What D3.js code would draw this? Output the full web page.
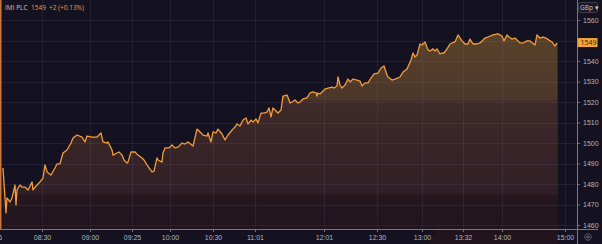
<!DOCTYPE html>
<html>
<head>
<meta charset="utf-8">
<script src="https://cdn.jsdelivr.net/npm/d3@7"></script>
<style>
  html, body { margin: 0; padding: 0; background: #141220; }
  svg { display: block; font-family: "Open Sans", Roboto, sans-serif; }
</style>
</head>
<body>
<div id="viz"></div>
<script>
// intraday bars (bar number from the first bar) and closing prices, GBp
const barIndex = [0, 3, 4, 7, 9, 12, 13, 14, 17, 19, 22, 25, 29, 30, 33, 37, 40, 42, 44, 48, 52, 54, 57, 60, 64, 68, 70, 74, 79, 82, 84, 89, 94, 98,
  100, 104, 105, 109, 110, 114, 116, 119, 121, 124, 125, 128, 132, 135, 139, 141, 144, 147, 149, 151, 154, 155, 159, 160, 162, 166, 169, 172, 175, 179, 182, 185, 190,
  194, 197, 200, 204, 205, 208, 210, 213, 215, 219, 222, 225, 229, 232, 234, 237, 240, 243, 245, 248, 250, 253, 255, 258, 261, 264, 266, 268, 270, 272, 275, 278, 280, 284, 286,
  287, 289, 292, 295, 297, 300, 304, 307, 310, 313, 314, 315, 317, 319, 322, 325, 329, 331, 334, 335, 337, 339, 342, 345, 347, 350, 354, 357, 359, 362, 365, 368, 371, 375, 378, 381,
  384, 385, 389, 392, 397, 400, 404, 408, 410, 412, 414, 417, 419, 422, 425, 427, 430, 432, 434, 437, 439, 441, 444, 447, 449, 452, 455, 459, 462, 465, 467, 470, 474, 477,
  482, 485, 490, 495, 499, 501, 504, 506, 509, 512, 515, 517, 520, 524, 527, 532, 534, 537, 540, 543, 546, 549, 552, 554, 556]
const price = [1487.8, 1465.9, 1473.2, 1471.2, 1473.2, 1479.5, 1469.8, 1477.1, 1479.5, 1478.5, 1478.5, 1477.1, 1481.0, 1477.1, 1479.0, 1481.0, 1482.9, 1489.3, 1485.9, 1484.4, 1487.8, 1489.8, 1489.8, 1495.1, 1496.6, 1500.0, 1502.4, 1503.9, 1502.9, 1500.5, 1503.4, 1502.9, 1502.9, 1504.9,
  1500.5, 1500.0, 1500.5, 1496.6, 1494.1, 1495.1, 1495.6, 1494.1, 1491.7, 1490.2, 1490.7, 1495.6, 1495.6, 1494.1, 1492.7, 1491.7, 1489.3, 1487.3, 1485.9, 1486.3, 1492.7, 1491.7, 1490.7, 1495.1, 1497.6, 1497.6, 1499.0, 1497.6, 1498.0, 1500.0, 1499.5, 1500.5, 1498.5,
  1506.8, 1505.4, 1503.9, 1503.4, 1504.9, 1500.5, 1505.4, 1504.9, 1506.8, 1504.4, 1501.5, 1503.9, 1506.3, 1507.8, 1509.3, 1508.3, 1511.2, 1512.2, 1509.3, 1511.2, 1510.2, 1511.7, 1509.8, 1514.6, 1514.6, 1515.1, 1517.1, 1512.7, 1517.1, 1516.1, 1514.6, 1516.1, 1522.9, 1523.4,
  1521.0, 1519.5, 1520.0, 1521.0, 1519.5, 1520.0, 1521.5, 1522.0, 1524.4, 1524.9, 1524.4, 1522.9, 1524.4, 1523.9, 1524.9, 1526.3, 1526.8, 1527.3, 1526.8, 1527.8, 1532.2, 1528.3, 1526.8, 1528.3, 1531.2, 1529.8, 1531.2, 1530.7, 1530.2, 1527.8, 1529.3, 1529.3, 1531.7, 1533.7, 1534.1, 1536.6,
  1537.6, 1533.2, 1532.2, 1530.7, 1531.2, 1532.2, 1534.6, 1536.1, 1540.5, 1543.9, 1542.0, 1542.9, 1548.3, 1547.8, 1549.3, 1545.4, 1544.9, 1545.9, 1544.9, 1545.9, 1543.4, 1543.9, 1543.9, 1545.9, 1548.3, 1548.8, 1549.3, 1552.7, 1549.8, 1548.3, 1548.3, 1550.7, 1548.3, 1548.3,
  1548.8, 1551.2, 1551.7, 1552.7, 1553.2, 1552.2, 1549.8, 1552.7, 1551.7, 1550.7, 1551.2, 1549.8, 1548.8, 1548.8, 1549.8, 1549.8, 1547.8, 1552.7, 1551.2, 1551.7, 1551.2, 1550.2, 1549.3, 1547.3, 1548.8]

// time labels and the bar they sit on
const timeLabels = ["08:06", "08:30", "09:00", "09:25", "10:00", "10:30", "11:01", "12:01", "12:30", "13:00", "13:32", "14:00", "15:00"]
const timeBars = [-10, 39, 87, 129, 167, 210, 252, 321, 374, 419, 460, 499, 562]

const priceTicks = [1460, 1470, 1480, 1490, 1500, 1510, 1520, 1530, 1540, 1550, 1560]

const lastPrice = 1549
const headline = "IMI PLC"
const lastText = "1549"
const changeText = "+2 (+0.13%)"

const width = 602
const height = 244
const plotLeft = 3, plotRight = 577, axisY = 229

const data = barIndex.map((b, i) => ({ bar: b, price: price[i] }))

const svg = d3.select("#viz").append("svg")
  .attr("width", width)
  .attr("height", height)

svg.append("rect").attr("width", width).attr("height", height).attr("fill", "#141220")

const x = d3.scaleLinear().domain([0, 574]).range([plotLeft, plotRight])
const y = d3.scaleLinear().domain([1460, 1560]).range([225, 20])

// fill gradient, a bit stepped like the original
const defs = svg.append("defs")
const grad = defs.append("linearGradient")
  .attr("id", "fillGrad")
  .attr("gradientUnits", "userSpaceOnUse")
  .attr("x1", 0).attr("x2", 0).attr("y1", 30).attr("y2", axisY)
const stops = [
  [0, "#5a432b"], [0.35, "#4c3629"], [0.36, "#3f2a29"],
  [0.82, "#301f26"], [0.83, "#26171f"], [1, "#21141c"]
]
stops.forEach(s => grad.append("stop").attr("offset", s[0]).attr("stop-color", s[1]))

// area under the price, one slice per pair of neighbouring bars
svg.append("g").selectAll("polygon")
  .data(d3.pairs(data))
  .join("polygon")
    .attr("points", ([a, b]) => [
      [x(a.bar), y(a.price)], [x(b.bar), y(b.price)],
      [x(b.bar), axisY], [x(a.bar), axisY]
    ].join(" "))
    .attr("fill", "url(#fillGrad)")
    .attr("stroke", "url(#fillGrad)")
    .attr("stroke-width", 0.6)

// grid on top of the fill, faint
svg.append("g").selectAll("line")
  .data(priceTicks)
  .join("line")
    .attr("x1", 0).attr("x2", plotRight)
    .attr("y1", d => Math.round(y(d)) + 0.5).attr("y2", d => Math.round(y(d)) + 0.5)
    .attr("stroke", "rgba(160,150,210,0.1)")
svg.append("g").selectAll("line")
  .data(timeBars)
  .join("line")
    .attr("x1", d => Math.round(x(d)) + 0.5).attr("x2", d => Math.round(x(d)) + 0.5)
    .attr("y1", 0).attr("y2", axisY)
    .attr("stroke", "rgba(160,150,210,0.1)")

// price line
const line = d3.line().x(d => x(d.bar)).y(d => y(d.price))
svg.append("path")
  .attr("d", line(data))
  .attr("fill", "none")
  .attr("stroke", "#f29b3a")
  .attr("stroke-width", 1.3)
  .attr("stroke-linejoin", "round")

// left edge accent
svg.append("line").attr("x1", 0.75).attr("x2", 0.75).attr("y1", 0).attr("y2", axisY)
  .attr("stroke", "#c8763a").attr("stroke-width", 1.5)

// bottom axis
const xAxis = d3.axisBottom(x)
  .tickValues(timeBars)
  .tickFormat((d, i) => timeLabels[i])
  .tickSize(3)
  .tickPadding(3)
const gx = svg.append("g").attr("transform", `translate(0,${axisY})`).call(xAxis)
gx.select(".domain").remove()
gx.selectAll("line").attr("stroke", "#6f6d7c")
gx.selectAll("text").attr("fill", "#b4b3bd").attr("font-size", 7)
svg.append("line").attr("x1", 0).attr("x2", 598).attr("y1", axisY + 0.5).attr("y2", axisY + 0.5)
  .attr("stroke", "#7a7886")

// right axis
const yAxis = d3.axisRight(y)
  .tickValues(priceTicks)
  .tickFormat(d3.format("d"))
  .tickSize(3)
  .tickPadding(3)
const gy = svg.append("g").attr("transform", `translate(${plotRight},0)`).call(yAxis)
gy.select(".domain").remove()
gy.selectAll("line").attr("stroke", "#6f6d7c")
gy.selectAll("text").attr("fill", "#b4b3bd").attr("font-size", 7)
gy.selectAll(".tick").filter(d => Math.abs(d - lastPrice) < 5).select("text").remove()
svg.append("line").attr("x1", plotRight + 0.5).attr("x2", plotRight + 0.5).attr("y1", 0).attr("y2", height)
  .attr("stroke", "#7a7886")

// last price tag
const tagY = y(lastPrice)
svg.append("rect").attr("x", plotRight + 0.5).attr("y", tagY - 4.5).attr("width", 20).attr("height", 9)
  .attr("fill", "#f5a43a")
svg.append("text").attr("x", plotRight + 3.5).attr("y", tagY + 2.5)
  .attr("font-size", 7).attr("fill", "#2a1d0c").text(lastPrice)

// currency selector
svg.append("rect").attr("x", 578.5).attr("y", 2.5).attr("width", 19).attr("height", 10).attr("rx", 2)
  .attr("fill", "#1b1928").attr("stroke", "#3e3c4c")
svg.append("text").attr("x", 580).attr("y", 10).attr("font-size", 6.5).attr("fill", "#c6c5ce").text("GBp ▾")

// settings gear
const gear = svg.append("g").attr("transform", "translate(588,237)")
gear.append("circle").attr("r", 3.2).attr("fill", "none").attr("stroke", "#8d8b99").attr("stroke-width", 1)
  .attr("stroke-dasharray", "1.4 0.7")
gear.append("circle").attr("r", 1.2).attr("fill", "none").attr("stroke", "#8d8b99").attr("stroke-width", 0.7)

// header
svg.append("text").attr("x", 5).attr("y", 9.5).attr("font-size", 6.5).attr("fill", "#c9c8d0").text(headline)
svg.append("text").attr("x", 31).attr("y", 9.5).attr("font-size", 6.5).attr("fill", "#f29b3a").text(lastText)
svg.append("text").attr("x", 49).attr("y", 9.5).attr("font-size", 6.5).attr("fill", "#f29b3a").text(changeText)
</script>
</body>
</html>
